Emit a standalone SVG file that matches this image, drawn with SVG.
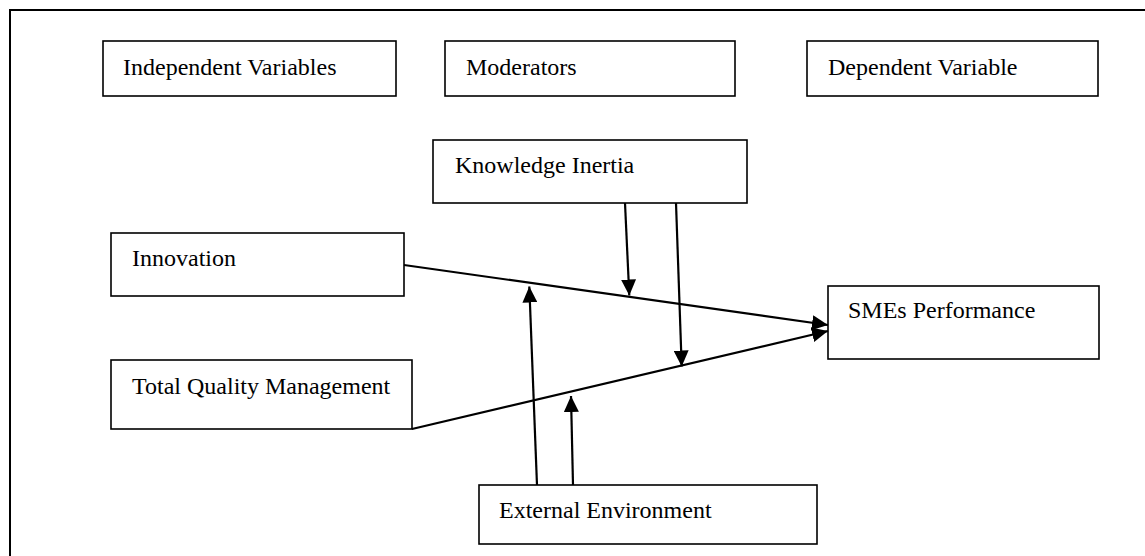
<svg xmlns="http://www.w3.org/2000/svg" width="1145" height="556" viewBox="0 0 1145 556">
<style>
.box{fill:#fff;stroke:#000;stroke-width:1.6}
.lbl{font-family:"Liberation Serif","Times New Roman",serif;font-size:24px;fill:#000}
.con{stroke:#000;stroke-width:2.2;fill:none}
</style>
<defs>
<marker id="ah" viewBox="0 0 16 15" refX="16" refY="7.5" markerWidth="16" markerHeight="15" markerUnits="userSpaceOnUse" orient="auto">
<path d="M0,0 L16,7.5 L0,15 Z" fill="#000"/>
</marker>
</defs>
<rect width="1145" height="556" fill="#fff"/>
<g id="frame"><path d="M10,556 L10,10 L1145,10" fill="none" stroke="#000" stroke-width="2"/></g>
<g id="independent-variables"><rect class="box" x="103" y="41" width="293" height="55"/><text class="lbl" x="123" y="75">Independent Variables</text></g>
<g id="moderators"><rect class="box" x="445" y="41" width="290" height="55"/><text class="lbl" x="466" y="75">Moderators</text></g>
<g id="dependent-variable"><rect class="box" x="807" y="41" width="291" height="55"/><text class="lbl" x="828" y="75">Dependent Variable</text></g>
<g id="knowledge-inertia"><rect class="box" x="433" y="140" width="314" height="63"/><text class="lbl" x="455" y="173">Knowledge Inertia</text></g>
<g id="innovation"><rect class="box" x="111" y="233" width="293" height="63"/><text class="lbl" x="132" y="266">Innovation</text></g>
<g id="tqm"><rect class="box" x="111" y="360" width="301" height="69"/><text class="lbl" x="132" y="394">Total Quality Management</text></g>
<g id="smes-performance"><rect class="box" x="828" y="286" width="271" height="73"/><text class="lbl" x="848" y="318">SMEs Performance</text></g>
<g id="external-environment"><rect class="box" x="479" y="485" width="338" height="59"/><text class="lbl" x="499" y="518">External Environment</text></g>
<g id="connectors">
<line class="con" x1="404" y1="265" x2="828" y2="325" marker-end="url(#ah)"/>
<line class="con" x1="412" y1="429" x2="828" y2="331" marker-end="url(#ah)"/>
<line class="con" x1="625" y1="203" x2="629.3" y2="295.5" marker-end="url(#ah)"/>
<line class="con" x1="676" y1="203" x2="681.7" y2="366.5" marker-end="url(#ah)"/>
<line class="con" x1="537" y1="485" x2="529.3" y2="286.5" marker-end="url(#ah)"/>
<line class="con" x1="573" y1="485" x2="571" y2="396" marker-end="url(#ah)"/>
</g>
</svg>
